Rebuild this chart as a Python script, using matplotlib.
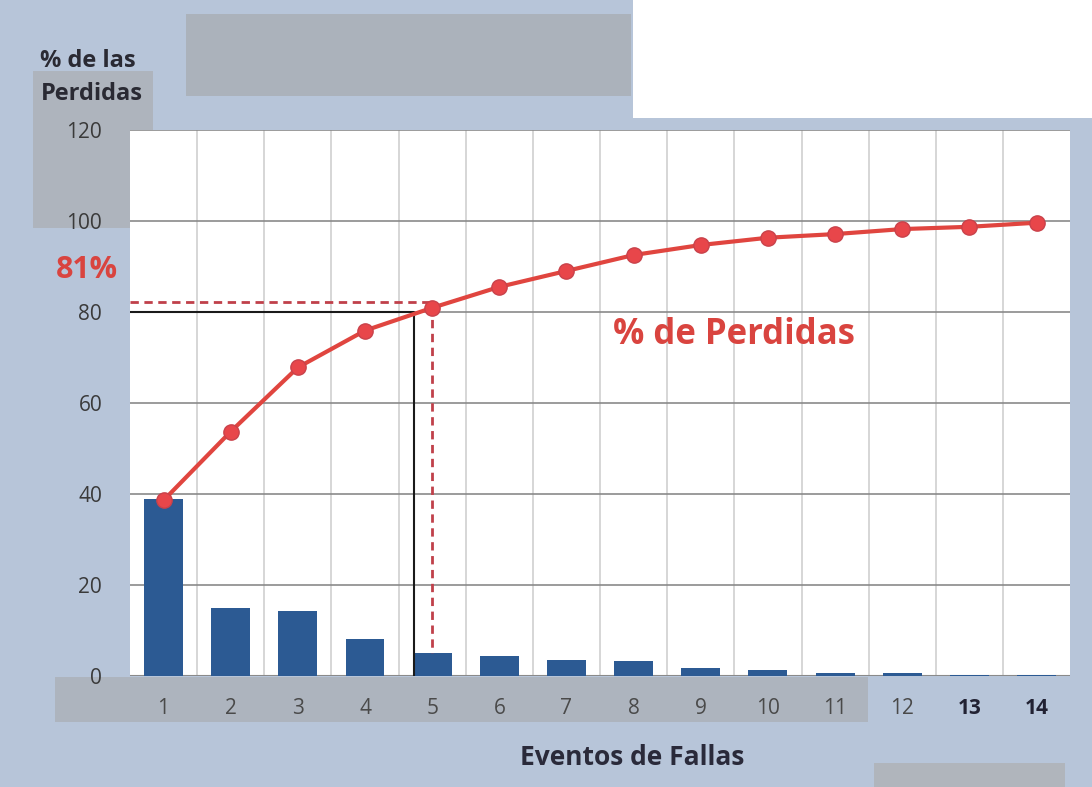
import matplotlib.pyplot as plt
from matplotlib.patches import Rectangle

plt.rcParams['font.family'] = ['Open Sans', 'DejaVu Sans']

# Pareto data
eventos = [1, 2, 3, 4, 5, 6, 7, 8, 9, 10, 11, 12, 13, 14]
perdidas = [39.0, 15.0, 14.3, 8.1, 5.0, 4.4, 3.5, 3.3, 1.8, 1.3, 0.7, 0.6, 0.3, 0.2]
acumulado = [38.6, 53.7, 67.8, 75.9, 80.9, 85.5, 89.0, 92.5, 94.7, 96.3, 97.1, 98.2, 98.7, 99.6]
y_ticks = [0, 20, 40, 60, 80, 100, 120]

corte_x = 4.73   # where the solid 80% line drops
corte_80 = 80
corte_81 = 82.2

fig = plt.figure(figsize=(10.92, 7.87), dpi=100)
fig.patch.set_facecolor('#b7c5d9')

# scan-like background patches (behind the axes)
def fondo(x, y, w, h, color):
    fig.patches.append(Rectangle((x, y), w, h, transform=fig.transFigure,
                                 facecolor=color, edgecolor='none', zorder=-5))

fondo(0.58, 0.85, 0.42, 0.15, 'white')
fondo(0.17, 0.878, 0.408, 0.104, '#abb2bb')
fondo(0.03, 0.71, 0.11, 0.2, '#aeb4bd')
fondo(0.05, 0.083, 0.745, 0.057, '#adb4be')
fondo(0.80, 0.0, 0.175, 0.03, '#b0b5bc')

ax = fig.add_axes([0.119, 0.141, 0.861, 0.694])
ax.set_facecolor('white')

ax.bar(eventos, perdidas, width=0.58, color='#2c5a93', zorder=3)
ax.plot(eventos, acumulado, color='#e0453f', lw=3, marker='o', markersize=11,
        markerfacecolor='#e8464a', markeredgecolor='#c9424a', zorder=5)

# 80 / 81 % guide lines
ax.plot([0.5, corte_x, corte_x], [corte_80, corte_80, 0], color='#1a1a1a', lw=1.5, zorder=4)
ax.plot([0.5, 5, 5], [corte_81, corte_81, perdidas[4]], color='#c0404a', lw=2,
        linestyle=(0, (3, 2)), zorder=4)

ax.set_xlim(0.5, 14.5)
ax.set_ylim(0, 120)
ax.set_yticks(y_ticks)
ax.set_xticks(eventos)
ax.set_xticks([e + 0.5 for e in eventos[:-1]], minor=True)
ax.grid(False)
ax.grid(axis='y', which='major', color='#8a8a8a', lw=1.2, zorder=1)
ax.grid(axis='x', which='minor', color='#d0d0d0', lw=1.2, zorder=1)
ax.tick_params(which='both', length=0)
ax.tick_params(axis='y', labelsize=15, labelcolor='#3a3a3a', pad=20)
ax.tick_params(axis='x', labelsize=15, labelcolor='#4a4a4a', pad=16)
for lbl in ax.get_xticklabels()[12:]:
    lbl.set_fontweight('bold')
    lbl.set_color('#222233')
for s in ax.spines.values():
    s.set_visible(False)
ax.axhline(0, color='#8a8a8a', lw=1.5, zorder=2)

fig.text(0.037, 0.901, '% de las\nPerdidas', fontsize=17, fontweight='bold',
         color='#2a2a33', ha='left', va='center', linespacing=1.5)
fig.text(0.08, 0.657, '81%', fontsize=22, fontweight='bold',
         color='#d9443f', ha='center', va='center')
ax.text(9.5, 75, '% de Perdidas', fontsize=25, fontweight='bold', color='#d9443f',
        ha='center', va='center', zorder=6)
fig.text(0.579, 0.038, 'Eventos de Fallas', fontsize=19, fontweight='bold',
         color='#2a2a3a', ha='center', va='center')

fig.savefig('out.png', dpi=100, facecolor=fig.get_facecolor())
